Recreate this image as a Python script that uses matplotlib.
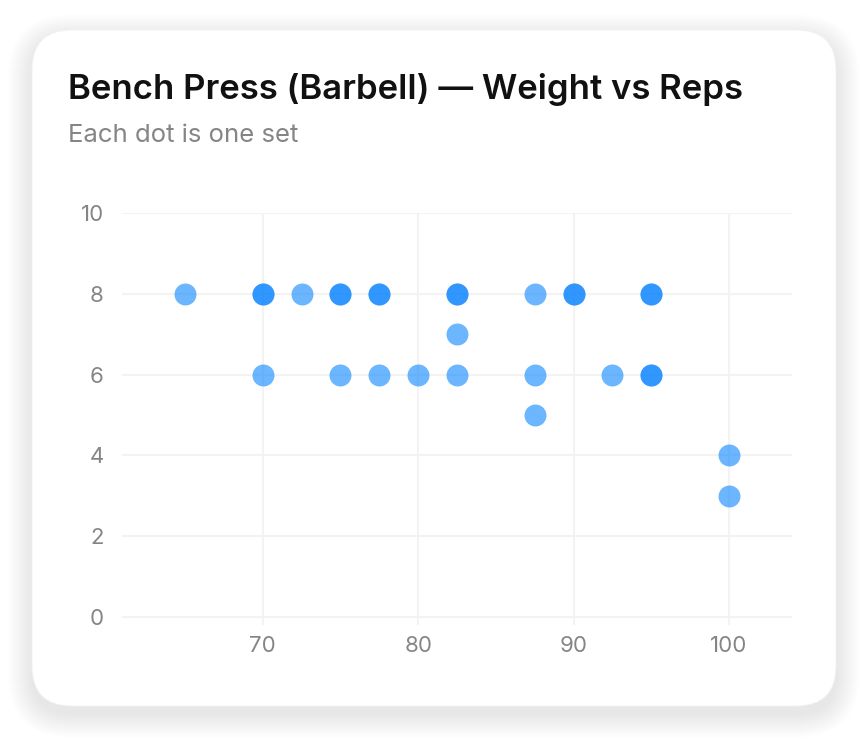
import matplotlib
matplotlib.use("Agg")
import matplotlib.pyplot as plt
from matplotlib.patches import FancyBboxPatch

# Data: (weight, reps) of each set; duplicates overlap
weights = [65, 70, 70, 72.5, 75, 75, 77.5, 77.5, 82.5, 82.5, 87.5, 90, 90, 95, 95,
           82.5,
           70, 75, 77.5, 80, 82.5, 87.5, 92.5, 95, 95,
           87.5, 100, 100]
reps = [8, 8, 8, 8, 8, 8, 8, 8, 8, 8, 8, 8, 8, 8, 8,
        7,
        6, 6, 6, 6, 6, 6, 6, 6, 6,
        5, 4, 3]
x_ticks = [70, 80, 90, 100]
y_ticks = [0, 2, 4, 6, 8, 10]
title = "Bench Press (Barbell) \u2014 Weight vs Reps"
subtitle = "Each dot is one set"

plt.rcParams['font.family'] = ['Inter', 'DejaVu Sans']

W, H = 868, 747
fig = plt.figure(figsize=(W / 100, H / 100), dpi=100)
fig.patch.set_facecolor("white")

# card shadow + card (pixel coords -> figure fraction)
def box(x0, y0, x1, y1, r, **kw):
    p = FancyBboxPatch((x0 / W, 1 - y1 / H), (x1 - x0) / W, (y1 - y0) / H,
                       boxstyle=f"round,pad=0,rounding_size={r / W}",
                       transform=fig.transFigure, mutation_aspect=W / H,
                       zorder=-5, **kw)
    fig.patches.append(p)

for i in range(24, 0, -1):
    box(32 - i, 30 - i + 8, 836 + i, 706 + i + 8, 40 + i,
        facecolor="black", edgecolor="none", alpha=0.0028)
box(32, 30, 836, 706, 40, facecolor="white", edgecolor="#f2f2f2", linewidth=0.6)

fig.text(68 / W, 1 - 89 / H, title, fontsize=25, fontweight="semibold",
         color="#111111", va="center", ha="left", zorder=5)
fig.text(68 / W, 1 - 136 / H, subtitle, fontsize=18.5, color="#858585",
         va="center", ha="left", zorder=5)

ax = fig.add_axes([122 / W, 122 / H, (792 - 122) / W, (534 - 122) / H])
ax.set_zorder(3)
ax.set_facecolor("none")
ax.scatter(weights, reps, s=250, color="#0A84FF", alpha=0.6, linewidths=0, zorder=3)
ax.set_xlim(60.95, 104.05)
ax.set_ylim(-0.2, 10)
ax.set_xticks(x_ticks)
ax.set_yticks(y_ticks)
ax.grid(True, color="#f3f3f3", linewidth=1.5, zorder=0)
for s in ax.spines.values():
    s.set_visible(False)
ax.tick_params(length=0, labelsize=16, labelcolor="#858585")
ax.tick_params(axis="x", pad=8)
ax.tick_params(axis="y", pad=13)
fig.savefig("out.png", dpi=100, facecolor="white")
